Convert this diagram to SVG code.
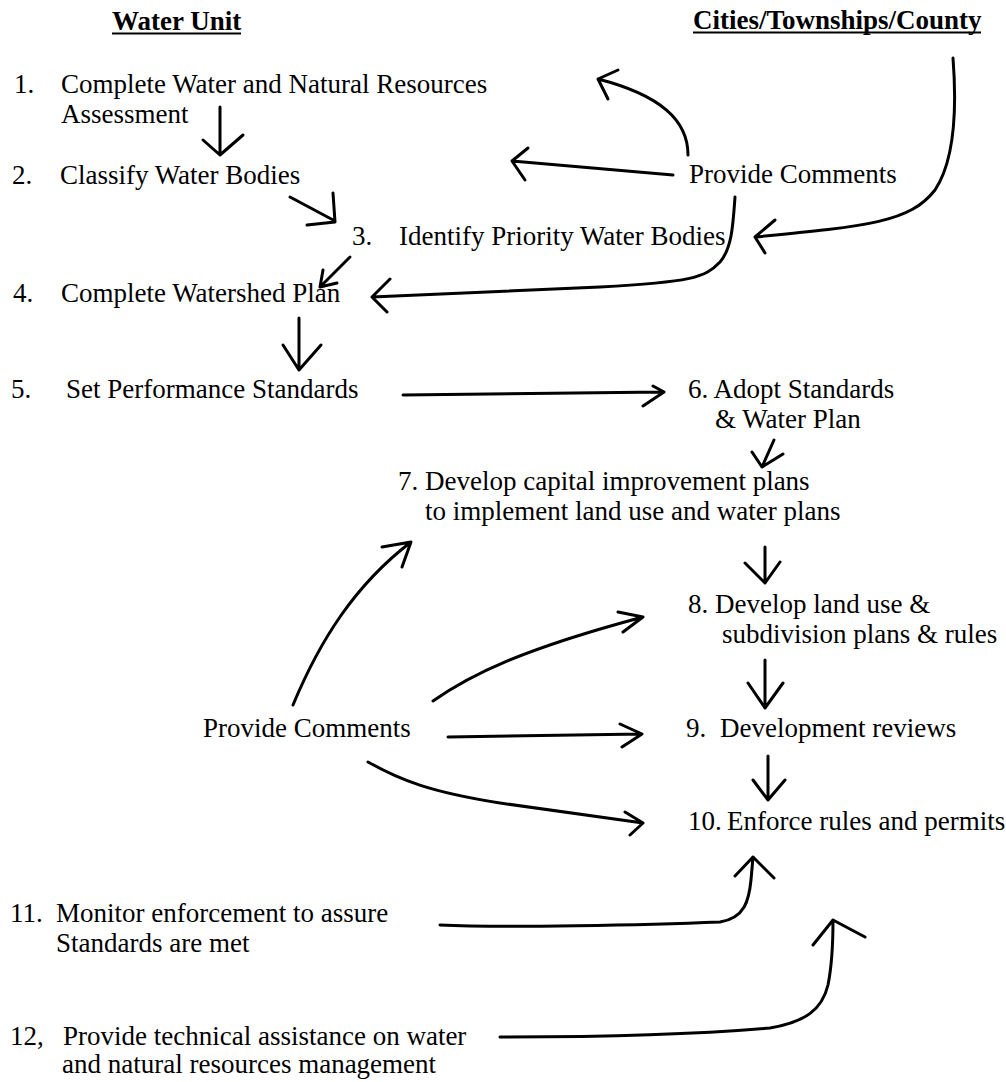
<svg xmlns="http://www.w3.org/2000/svg" width="1006" height="1082" viewBox="0 0 1006 1082">
<style>
text{font-family:"Liberation Serif","Times New Roman",serif;font-size:27px;fill:#000}
.h{font-weight:bold}
.ul{stroke:#000;stroke-width:2}
.c path{fill:none;stroke:#000;stroke-width:3;stroke-linecap:round;stroke-linejoin:round}
</style>
<rect width="1006" height="1082" fill="#fff"/>
<g id="hdr-water-unit"><text class="h" x="112" y="30">Water Unit</text><line class="ul" x1="112" y1="33.5" x2="241" y2="33.5"/></g>
<g id="hdr-cities"><text class="h" x="693" y="29">Cities/Townships/County</text><line class="ul" x1="693" y1="32.5" x2="981" y2="32.5"/></g>
<g id="n1"><text x="14" y="93">1.</text><text x="61" y="93">Complete Water and Natural Resources</text><text x="61" y="123">Assessment</text></g>
<g id="n2"><text x="12" y="184">2.</text><text x="60" y="184">Classify Water Bodies</text></g>
<g id="n3"><text x="352" y="245">3.</text><text x="399" y="245">Identify Priority Water Bodies</text></g>
<g id="n4"><text x="13" y="302">4.</text><text x="61" y="302">Complete Watershed Plan</text></g>
<g id="n5"><text x="11" y="398">5.</text><text x="66" y="398">Set Performance Standards</text></g>
<g id="pc-top"><text x="689" y="183">Provide Comments</text></g>
<g id="n6"><text x="688" y="398">6. Adopt Standards</text><text x="715" y="428">&amp; Water Plan</text></g>
<g id="n7"><text x="398" y="490">7. Develop capital improvement plans</text><text x="425" y="520">to implement land use and water plans</text></g>
<g id="n8"><text x="688" y="613">8. Develop land use &amp;</text><text x="722" y="643">subdivision plans &amp; rules</text></g>
<g id="pc-bottom"><text x="203" y="737">Provide Comments</text></g>
<g id="n9"><text x="686" y="737">9.</text><text x="720" y="737">Development reviews</text></g>
<g id="n10"><text x="688" y="830">10.</text><text x="727" y="830">Enforce rules and permits</text></g>
<g id="n11"><text x="10" y="922">11.</text><text x="56" y="922">Monitor enforcement to assure</text><text x="56" y="952">Standards are met</text></g>
<g id="n12"><text x="10" y="1045">12,</text><text x="63" y="1045">Provide technical assistance on water</text><text x="62" y="1073">and natural resources management</text></g>
<g class="c" id="connectors">
<path d="M220,107 L220,155 M203,140 L220,155 L243,135"/>
<path d="M290,197 L335,221 M333,193 L335,222 L307,225"/>
<path d="M350,257 L322,285 M323,270 L320,287 L337,283"/>
<path d="M688,155 C688,120 660,95 598,79 M618,70 L598,79 L608,99"/>
<path d="M673,175 L512,161 M528,148 L512,161 L525,180"/>
<path d="M735,197 C733,225 732,248 720,262 C705,278 690,282 600,287 L372,297 M390,279 L372,297 L387,312"/>
<path d="M953,58 C957,110 955,160 935,190 C910,222 870,226 755,237 M775,220 L755,237 L765,253"/>
<path d="M299,318 L299,370 M283,345 L299,370 L321,345"/>
<path d="M403,395 L663,392 M653,386 L664,392 L643,406"/>
<path d="M774,440 L762,467 M752,452 L762,467 L783,454"/>
<path d="M765,547 L765,583 M745,563 L765,583 L780,562"/>
<path d="M765,660 L765,708 M748,683 L765,708 L783,683"/>
<path d="M768,756 L768,800 M753,780 L768,800 L785,780"/>
<path d="M293,705 C320,640 355,585 411,542 M382,547 L411,542 L402,567"/>
<path d="M433,701 C470,675 520,650 643,617 M618,612 L643,617 L623,632"/>
<path d="M448,737 L642,734 M620,724 L642,734 L622,747"/>
<path d="M368,762 C400,780 430,792 500,803 L643,823 M625,812 L643,823 L630,835"/>
<path d="M440,925 C500,928 650,925 720,922 C745,918 749,900 751,880 L753,857 M735,876 L753,857 L774,878"/>
<path d="M500,1037 C600,1037 700,1034 770,1028 C805,1022 822,1010 828,985 C832,965 833,945 833,920 M813,945 L833,920 L865,937"/>
</g>
</svg>
